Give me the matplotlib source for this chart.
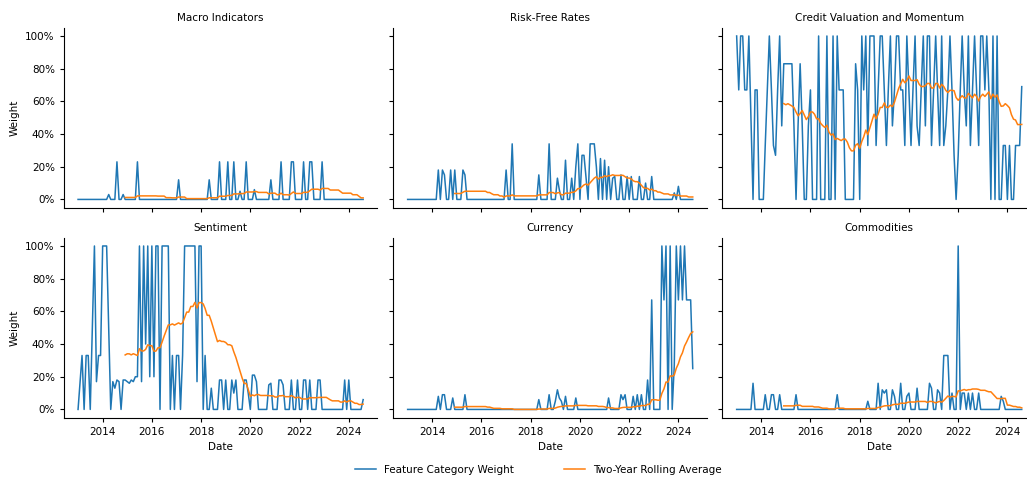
import matplotlib
matplotlib.use('Agg')
import numpy as np
import pandas as pd
import matplotlib.pyplot as plt
import matplotlib.dates as mdates
from matplotlib.ticker import PercentFormatter

# Monthly feature-category weights (%), Jan 2013 - Aug 2024, one row per year
macro = [
    0, 0, 0, 0, 0, 0, 0, 0, 0, 0, 0, 0,
    0, 0, 0, 3, 0, 0, 0, 23, 0, 0, 3, 0,
    0, 0, 0, 0, 0, 23, 0, 0, 0, 0, 0, 0,
    0, 0, 0, 0, 0, 0, 0, 0, 0, 0, 0, 0,
    0, 12, 0, 0, 0, 0, 0, 0, 0, 0, 0, 0,
    0, 0, 0, 0, 12, 0, 0, 0, 0, 23, 0, 0,
    0, 23, 0, 0, 23, 0, 0, 5, 0, 0, 23, 0,
    0, 0, 6, 0, 0, 0, 0, 0, 0, 0, 12, 0,
    0, 0, 0, 23, 0, 0, 0, 0, 23, 23, 0, 0,
    0, 0, 23, 0, 0, 23, 23, 0, 0, 0, 0, 23,
    0, 0, 0, 0, 0, 0, 0, 0, 0, 0, 0, 0,
    0, 0, 0, 0, 0, 0, 0, 0,
]

risk_free = [
    0, 0, 0, 0, 0, 0, 0, 0, 0, 0, 0, 0,
    0, 0, 0, 18, 0, 18, 15, 0, 0, 18, 0, 18,
    0, 0, 0, 18, 15, 0, 0, 0, 0, 0, 0, 0,
    0, 0, 0, 0, 0, 0, 0, 0, 0, 0, 0, 0,
    18, 0, 0, 34, 0, 0, 0, 0, 0, 0, 0, 0,
    0, 0, 0, 0, 15, 0, 0, 0, 0, 34, 0, 0,
    0, 13, 6, 0, 0, 24, 0, 0, 13, 0, 20, 34,
    0, 27, 27, 13, 0, 34, 34, 34, 20, 0, 25, 0,
    24, 0, 20, 0, 13, 14, 0, 0, 15, 0, 0, 14,
    0, 14, 0, 0, 0, 14, 0, 0, 10, 0, 0, 14,
    0, 0, 0, 0, 0, 0, 0, 0, 0, 0, 4, 0,
    8, 0, 0, 0, 0, 0, 0, 0,
]

credit = [
    100, 67, 100, 100, 67, 67, 100, 50, 0, 67, 67, 0,
    0, 0, 33, 67, 100, 67, 33, 27, 67, 100, 45, 83,
    83, 83, 83, 83, 45, 0, 45, 83, 45, 0, 0, 45,
    67, 0, 0, 0, 100, 0, 0, 0, 100, 0, 0, 100,
    0, 100, 67, 67, 67, 0, 0, 0, 0, 0, 83, 67,
    0, 100, 67, 100, 33, 100, 100, 100, 33, 67, 100, 100,
    67, 33, 67, 100, 45, 67, 100, 100, 67, 67, 33, 100,
    67, 33, 67, 100, 45, 33, 67, 100, 45, 100, 100, 33,
    67, 100, 67, 33, 100, 33, 45, 67, 100, 67, 27, 0,
    27, 67, 100, 67, 45, 100, 33, 67, 100, 67, 33, 100,
    100, 67, 100, 67, 0, 100, 0, 100, 0, 0, 33, 33,
    0, 33, 0, 0, 33, 33, 33, 69,
]

sentiment = [
    0, 17, 33, 0, 33, 33, 0, 50, 100, 17, 33, 33,
    100, 100, 100, 50, 0, 17, 13, 18, 17, 0, 18, 18,
    17, 16, 18, 17, 20, 20, 100, 17, 100, 40, 100, 20,
    100, 20, 100, 100, 0, 100, 100, 100, 100, 0, 33, 0,
    33, 33, 0, 33, 100, 100, 100, 100, 100, 100, 17, 100,
    100, 0, 33, 0, 0, 13, 0, 0, 0, 18, 18, 0,
    18, 0, 0, 18, 10, 18, 0, 0, 0, 18, 18, 10,
    0, 21, 21, 17, 0, 0, 0, 0, 0, 15, 16, 0,
    0, 0, 18, 18, 15, 0, 0, 0, 18, 0, 0, 18,
    0, 0, 18, 18, 0, 18, 0, 0, 0, 18, 18, 0,
    0, 0, 0, 0, 0, 0, 0, 0, 0, 0, 18, 0,
    18, 0, 0, 0, 0, 0, 0, 6,
]

currency = [
    0, 0, 0, 0, 0, 0, 0, 0, 0, 0, 0, 0,
    0, 0, 0, 8, 0, 9, 9, 0, 0, 0, 7, 0,
    0, 0, 0, 0, 9, 0, 0, 0, 0, 0, 0, 0,
    0, 0, 0, 0, 0, 0, 0, 0, 0, 0, 0, 0,
    0, 0, 0, 0, 0, 0, 0, 0, 0, 0, 0, 0,
    0, 0, 0, 0, 6, 0, 0, 0, 0, 9, 0, 0,
    5, 12, 7, 5, 0, 8, 0, 0, 0, 0, 7, 0,
    0, 0, 0, 0, 0, 0, 0, 0, 0, 0, 0, 0,
    0, 0, 7, 0, 0, 0, 0, 0, 9, 6, 9, 0,
    0, 0, 8, 0, 9, 0, 9, 0, 0, 18, 0, 67,
    0, 0, 0, 0, 100, 67, 100, 0, 100, 0, 27, 100,
    67, 100, 67, 100, 67, 67, 67, 25,
]

commodities = [
    0, 0, 0, 0, 0, 0, 0, 0, 16, 0, 0, 0,
    0, 0, 9, 0, 0, 9, 9, 0, 0, 9, 0, 0,
    0, 0, 0, 0, 0, 9, 0, 0, 0, 0, 0, 0,
    0, 0, 0, 0, 0, 0, 0, 0, 0, 0, 0, 0,
    0, 9, 0, 0, 0, 0, 0, 0, 0, 0, 0, 0,
    0, 0, 0, 0, 5, 0, 0, 0, 0, 16, 0, 12,
    10, 12, 0, 0, 12, 8, 0, 0, 16, 0, 0, 8,
    10, 0, 0, 0, 13, 0, 0, 0, 0, 0, 16, 13,
    0, 0, 12, 10, 0, 33, 33, 33, 0, 10, 0, 0,
    100, 0, 10, 10, 0, 10, 0, 10, 0, 0, 10, 0,
    0, 0, 0, 0, 0, 0, 0, 0, 0, 8, 5, 0,
    0, 0, 0, 0, 0, 0, 0, 0,
]

titles = ['Macro Indicators', 'Risk-Free Rates', 'Credit Valuation and Momentum',
          'Sentiment', 'Currency', 'Commodities']
series = [macro, risk_free, credit, sentiment, currency, commodities]
dates = pd.date_range('2013-01-01', periods=len(macro), freq='MS')

FS = 7.5
plt.rcParams.update({
    'font.size': FS,
    'xtick.labelsize': FS,
    'ytick.labelsize': FS,
    'xtick.major.size': 3,
    'ytick.major.size': 3,
    'axes.linewidth': 0.8,
})

fig = plt.figure(figsize=(10.27, 4.79), dpi=100)
W, H = 1027, 479
lefts = [63.8, 393.4, 722.4]
tops = [27.8, 237.8]
aw, ah = 313.6, 179.8

axes = []
for k, (name, vals) in enumerate(zip(titles, series)):
    r, c = divmod(k, 3)
    rect = [lefts[c] / W, 1 - (tops[r] + ah) / H, aw / W, ah / H]
    ax = fig.add_axes(rect, sharex=axes[0] if axes else None,
                      sharey=axes[0] if axes else None)
    axes.append(ax)
    s = pd.Series(vals, index=dates, dtype=float)
    ax.plot(dates, s.values, color='#1f77b4', lw=1.1, label='Feature Category Weight')
    ax.plot(dates, s.rolling(24).mean().values, color='#ff7f0e', lw=1.1,
            label='Two-Year Rolling Average')
    ax.set_title(name, fontsize=FS, pad=5)
    ax.spines['top'].set_visible(False)
    ax.spines['right'].set_visible(False)
    ax.yaxis.set_major_formatter(PercentFormatter(100, decimals=0))
    ax.xaxis.set_major_locator(mdates.YearLocator(2))
    ax.xaxis.set_major_formatter(mdates.DateFormatter('%Y'))
    if c == 0:
        ax.set_ylabel('Weight', fontsize=FS)
        ax.yaxis.set_label_coords(-0.141, 0.5)
    else:
        ax.tick_params(labelleft=False)
    if r == 1:
        ax.set_xlabel('Date', fontsize=FS)
    else:
        ax.tick_params(labelbottom=False)

# legend sits under the middle of the full grid, which runs past the right edge
handles, labels = axes[0].get_legend_handles_labels()
fig.legend(handles, labels, loc='center', bbox_to_anchor=(0.524, 1 - 470 / H),
           ncol=2, frameon=False, fontsize=FS, columnspacing=4.8)

fig.savefig('out.png', dpi=100)
